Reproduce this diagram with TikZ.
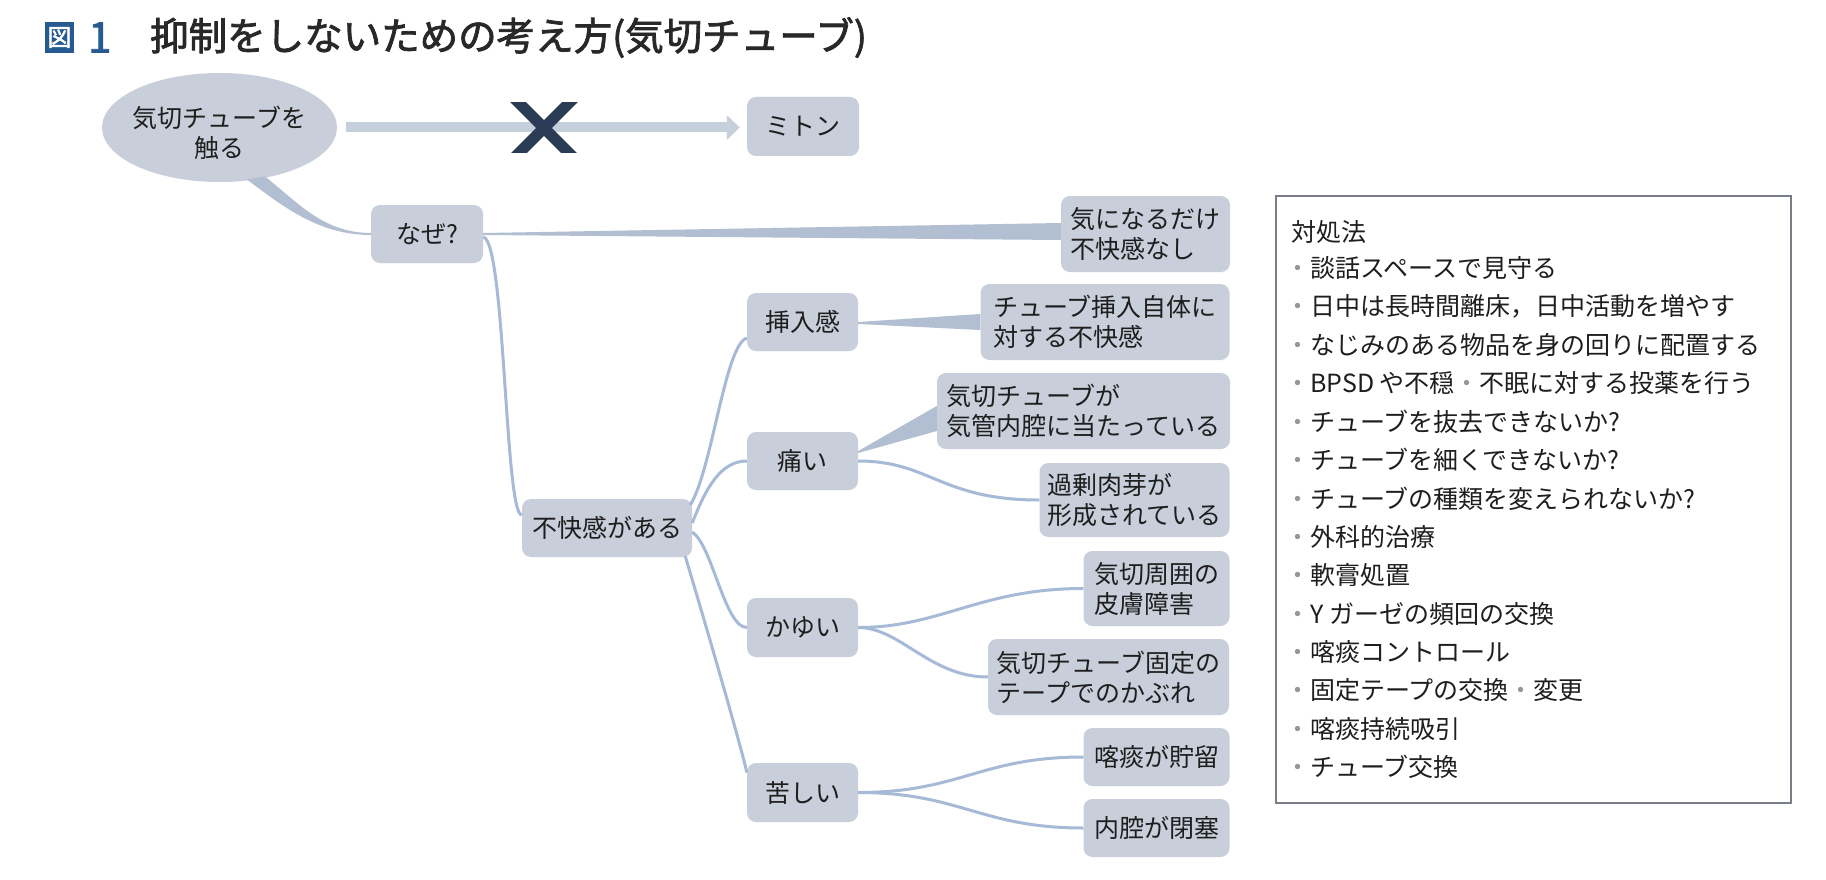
\documentclass[tikz,border=0pt]{standalone}
\usepackage{fontspec}
\setmainfont{Noto Sans CJK JP}
\newfontfamily\jpb[FakeBold=2]{Noto Sans CJK JP}
\usetikzlibrary{arrows.meta,shapes.geometric,calc}
\definecolor{nodefill}{RGB}{200,207,219}
\definecolor{linec}{RGB}{166,186,216}
\definecolor{wedgec}{RGB}{178,190,210}
\definecolor{shaftc}{RGB}{198,207,220}
\definecolor{xnavy}{RGB}{44,59,85}
\definecolor{titleblue}{RGB}{38,90,145}
\definecolor{titlegray}{RGB}{40,40,40}
\definecolor{txt}{RGB}{30,30,30}
\definecolor{boxline}{RGB}{120,125,135}
\definecolor{bulletc}{RGB}{150,150,150}
\begin{document}
\begin{tikzpicture}[x=1pt,y=-1pt,
  mm/.style={rounded corners=9pt, fill=nodefill, inner sep=0pt, text=txt,
    font=\fontsize{25}{30}\selectfont, align=left},
  br/.style={draw=linec, line width=3pt},
  wedge/.style={fill=wedgec},
  item/.style={anchor=west, inner sep=0pt, text=txt, font=\fontsize{25}{30}\selectfont}]
\useasboundingbox (0,0) rectangle (1826,880);
\fill[white] (0,0) rectangle (1826,880);

% title
\node[fill=titleblue, minimum width=29pt, minimum height=31pt, inner sep=0pt,
  text=white, font=\jpb\fontsize{24}{24}\selectfont] (zu) at (59.5,37.5) {図};
\node[anchor=west, inner sep=0pt, text=titleblue, font=\jpb\fontsize{42}{42}\selectfont] (one) at (88,37.5) {1};
\node[anchor=west, inner sep=0pt, text=titlegray, font=\jpb\fontsize{38.5}{38.5}\selectfont] (title) at (150,37.5) {抑制をしないための考え方(気切チューブ)};

% nodes
\node[ellipse, fill=nodefill, minimum width=235pt, minimum height=109pt, inner sep=0pt] (ell) at (219.5,127.5) {};
\node[inner sep=0pt, align=center, text=txt, font=\fontsize{25}{30}\selectfont] (elltxt) at (219.5,133) {気切チューブを\\触る};
\node[mm, minimum width=112pt, minimum height=59pt] (miton) at (803,126.5) {ミトン};
\node[mm, minimum width=112pt, minimum height=58pt] (naze) at (427,234) {なぜ?};
\node[mm, minimum width=169pt, minimum height=76pt] (kini) at (1145.5,234) {気になるだけ\\不快感なし};
\node[mm, minimum width=170pt, minimum height=58pt] (fukai) at (607,528) {不快感がある};
\node[mm, minimum width=111pt, minimum height=58pt] (sonyu) at (802.5,322) {挿入感};
\node[mm, minimum width=249pt, minimum height=76pt] (tubeins) at (1105,322) {チューブ挿入自体に\\対する不快感};
\node[mm, minimum width=111pt, minimum height=58pt] (itai) at (802.5,461) {痛い};
\node[mm, minimum width=293pt, minimum height=76pt] (kikan) at (1083.5,411) {気切チューブが\\気管内腔に当たっている};
\node[mm, minimum width=190pt, minimum height=74pt] (kajo) at (1134.5,500) {過剰肉芽が\\形成されている};
\node[mm, minimum width=111pt, minimum height=59pt] (kayui) at (802.5,627.5) {かゆい};
\node[mm, minimum width=146pt, minimum height=75pt] (shui) at (1156.5,588.5) {気切周囲の\\皮膚障害};
\node[mm, minimum width=241pt, minimum height=76pt] (kotei) at (1108.5,677) {気切チューブ固定の\\テープでのかぶれ};
\node[mm, minimum width=111pt, minimum height=59pt] (kurushii) at (802.5,792.5) {苦しい};
\node[mm, minimum width=146pt, minimum height=58pt] (kakutan) at (1156.5,757) {喀痰が貯留};
\node[mm, minimum width=146pt, minimum height=58pt] (naiku) at (1156.5,828) {内腔が閉塞};

% arrow with X
\draw[line width=10pt, shaftc, -{Triangle[length=13pt,width=24pt]}, shorten <=9pt, shorten >=7pt]
  (ell.east) -- (ell.east -| miton.west);
\coordinate (xm) at (544,128);
\begin{scope}
  \clip (500,103) rectangle (590,153);
  \draw[xnavy, line width=11pt] ($(xm)+(-30,-30)$) -- ($(xm)+(30,30)$);
  \draw[xnavy, line width=11pt] ($(xm)+(30,-30)$) -- ($(xm)+(-30,30)$);
\end{scope}

% tapered connectors
\fill[wedge] ($(ell.center)+(45.5,49)$) .. controls +(32,25) and +(-48,0) .. ($(naze.west)+(0,-1)$)
  -- ($(naze.west)+(0,1)$) .. controls +(-52,0) and +(36,27) .. ($(ell.center)+(27.5,52)$) -- cycle;
\fill[wedge] ($(naze.east)+(0,-1)$) -- ($(kini.west)+(0,-11)$) -- ($(kini.west)+(0,6)$) -- ($(naze.east)+(0,1)$) -- cycle;
\fill[wedge] ($(sonyu.east)+(0,0)$) -- ($(tubeins.west)+(0,-8)$) -- ($(tubeins.west)+(0,8)$) -- ($(sonyu.east)+(0,2)$) -- cycle;
\fill[wedge] ($(itai.east)+(0,-10)$) -- ($(kikan.west)+(0,-5)$) -- ($(kikan.west)+(0,20)$) -- ($(itai.east)+(0,-8)$) -- cycle;

% thin branches
\draw[br] ($(naze.east)+(0,3)$) .. controls +(22,3) and +(-17,0) .. ($(fukai.west)+(0,-13)$);
\draw[br] ($(fukai.east)+(-2,-23)$) .. controls +(22,-35) and +(-22,7) .. ($(sonyu.west)+(0,16)$);
\draw[br] ($(fukai.east)+(0,-5)$) .. controls +(13,-33) and +(-27,0) .. (itai.west);
\draw[br] ($(fukai.east)+(0,4)$) .. controls +(20,13) and +(-22,0) .. (kayui.west);
\draw[br] ($(fukai.south east)+(-7,-1)$) .. controls +(10,33) and +(-7,-32) .. ($(kurushii.west)+(0,-20)$);
\draw[br] (itai.east) .. controls +(72,0) and +(-99,0) .. (kajo.west);
\draw[br] (kayui.east) .. controls +(82,0) and +(-103,0) .. (shui.west);
\draw[br] (kayui.east) .. controls +(42,0) and +(-58,0) .. (kotei.west);
\draw[br] (kurushii.east) .. controls +(102,0) and +(-103,0) .. (kakutan.west);
\draw[br] (kurushii.east) .. controls +(102,0) and +(-103,0) .. (naiku.west);

% right box
\node[draw=boxline, line width=1.5pt, minimum width=515pt, minimum height=607pt, inner sep=0pt, anchor=north west] (taisho) at (1275,195) {};
\node[item] (hdr) at (1291,232) {対処法};
\foreach \t [count=\i] in {談話スペースで見守る, 日中は長時間離床，日中活動を増やす, なじみのある物品を身の回りに配置する, BPSD や不穏\textcolor{bulletc}{・}不眠に対する投薬を行う, チューブを抜去できないか?, チューブを細くできないか?, チューブの種類を変えられないか?, 外科的治療, 軟膏処置, Y ガーゼの頻回の交換, 喀痰コントロール, 固定テープの交換\textcolor{bulletc}{・}変更, 喀痰持続吸引, チューブ交換}
  \node[item] (it\i) at (1285,{268+38.4*(\i-1)}) {\textcolor{bulletc}{・}\t};
\end{tikzpicture}
\end{document}
